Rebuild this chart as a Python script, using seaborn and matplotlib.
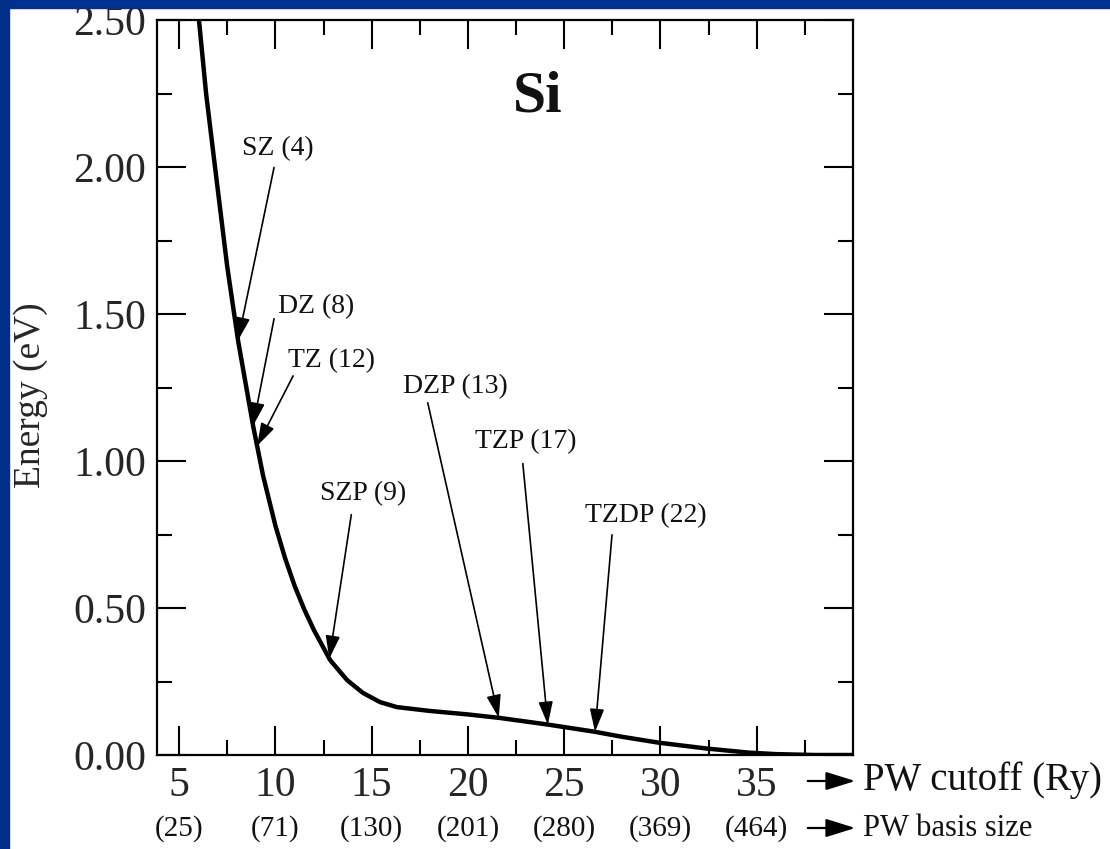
import numpy as np
import pandas as pd
import seaborn as sns
import matplotlib.pyplot as plt
from matplotlib.patches import Rectangle, FancyArrowPatch
from matplotlib.ticker import MultipleLocator, FixedLocator
import matplotlib.transforms as mtransforms

# energy convergence curve
cutoff_ry = [6.0, 6.4, 6.9, 7.5, 8.06, 8.84, 9.36, 10.0, 10.5, 11.0, 11.5, 12.0, 12.84,
             13.72, 14.55, 15.43, 16.3, 18.0, 20.0, 21.66, 24.1, 26.5, 28.0, 29.9, 32.4,
             34.6, 36.0, 38.0, 40.0]
energy_ev = [2.52, 2.25, 1.98, 1.66, 1.41, 1.12, 0.95, 0.78, 0.67, 0.575, 0.495, 0.425, 0.323,
             0.255, 0.211, 0.18, 0.163, 0.150, 0.138, 0.126, 0.104, 0.080, 0.062, 0.042, 0.022,
             0.008, 0.003, 0.0, 0.0]

# x ticks and the plane-wave basis sizes under them
x_ticks = [5, 10, 15, 20, 25, 30, 35]
pw_basis = ["(25)", "(71)", "(130)", "(201)", "(280)", "(369)", "(464)"]

# atomic basis sets and their equivalent PW cutoff
basis_labels = ["SZ (4)", "DZ (8)", "TZ (12)", "SZP (9)", "DZP (13)", "TZP (17)", "TZDP (22)"]
basis_cutoff = [8.06, 8.84, 9.05, 12.8, 21.6, 24.15, 26.6]

# layout: (tail offset, label offset) in pixels from the arrow tip
arrow_layout = [((36, 173), (40, 192)), ((21, 107), (63, 119)), ((36, 70), (74, 85)),
                ((22, 144), (34, 165)), ((-71, 315), (-43, 331)), ((-25, 261), (-22, 283)),
                ((17, 197), (51, 216))]

df = pd.DataFrame({"cutoff": cutoff_ry, "energy": energy_ev})

sns.set_theme(style="ticks")
plt.rcParams["font.family"] = ["Liberation Serif", "DejaVu Serif"]
plt.rcParams["text.color"] = "#111111"

fig = plt.figure(figsize=(11.10, 8.49), dpi=100)
fig.patch.set_facecolor("white")
ax = fig.add_axes([157 / 1110, 1 - 755 / 849, (853 - 157) / 1110, (755 - 20) / 849])

sns.lineplot(data=df, x="cutoff", y="energy", ax=ax, color="black", lw=3.2, sort=False)
ax.set_xlim(3.85, 40.0)
ax.set_ylim(0, 2.5)
ax.set_xlabel("")
ax.set_ylabel("Energy (eV)", fontsize=27, va="center")
ax.yaxis.set_label_coords(-0.181, 0.49)

ax.xaxis.set_major_locator(FixedLocator(x_ticks))
ax.xaxis.set_minor_locator(FixedLocator([7.5, 12.5, 17.5, 22.5, 27.5, 32.5, 37.5]))
ax.yaxis.set_major_locator(MultipleLocator(0.5))
ax.yaxis.set_minor_locator(MultipleLocator(0.25))
ax.yaxis.set_major_formatter(lambda v, p: f"{v:.2f}")
ax.tick_params(which="both", direction="in", top=True, right=True, width=1.5, color="black")
ax.tick_params(which="major", length=21, labelsize=30, pad=8)
ax.tick_params(which="minor", length=11)
for s in ax.spines.values():
    s.set_linewidth(1.6)
    s.set_color("black")

# second row of x labels: basis size
trans = mtransforms.blended_transform_factory(ax.transData, ax.transAxes)
for xv, lab in zip(x_ticks, pw_basis):
    ax.text(xv, -0.1007, lab, transform=trans, ha="center", va="center", fontsize=21)

# axis captions with arrows on the right
fig.text(863 / 1110, 1 - 780 / 849, "PW cutoff (Ry)", fontsize=28, va="center", ha="left")
fig.text(863 / 1110, 1 - 828 / 849, "PW basis size", fontsize=22, va="center", ha="left")
for yp in (781, 828):
    fig.add_artist(FancyArrowPatch(
        (805 / 1110, 1 - yp / 849), (858 / 1110, 1 - yp / 849), transform=fig.transFigure,
        arrowstyle="-|>,head_length=0.9,head_width=0.28", mutation_scale=20,
        lw=1.6, color="black"))

# basis-set annotations
for lab, xc, (tail, lpos) in zip(basis_labels, basis_cutoff, arrow_layout):
    yc = np.interp(xc, cutoff_ry, energy_ev)
    ax.annotate("", xy=(xc, yc), xytext=(tail[0], tail[1]), textcoords="offset pixels",
                arrowprops=dict(arrowstyle="-|>,head_length=0.7,head_width=0.22",
                                mutation_scale=20, lw=1.2, color="black",
                                shrinkA=0, shrinkB=0))
    ax.annotate(lab, xy=(xc, yc), xytext=lpos, textcoords="offset pixels",
                ha="center", va="center", fontsize=20)

ax.text(0.547, 0.895, "Si", transform=ax.transAxes, fontsize=43, fontweight="bold",
        ha="center", va="center")

# blue slide frame
fig.add_artist(Rectangle((0, 1 - 8 / 849), 1, 8 / 849, transform=fig.transFigure,
                         color="#003090", zorder=10))
fig.add_artist(Rectangle((0, 0), 9 / 1110, 1, transform=fig.transFigure,
                         color="#00308a", zorder=10))

fig.savefig("out.png", dpi=100)
